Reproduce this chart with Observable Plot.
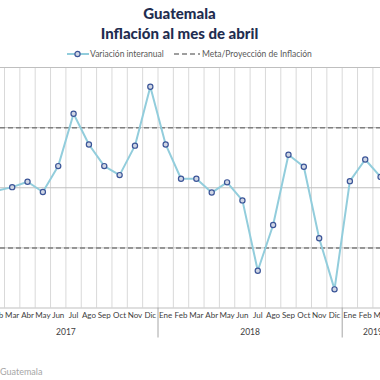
<!DOCTYPE html>
<html><head><meta charset="utf-8">
<script src="https://cdn.jsdelivr.net/npm/d3@7"></script>
<script src="https://cdn.jsdelivr.net/npm/@observablehq/plot@0.6"></script>
<style>
body{margin:0;background:#fff;}
#wrap{position:relative;width:380px;height:380px;overflow:hidden;font-family:Lato,"Noto Sans",sans-serif;background:#fff;}
.title{position:absolute;left:0;width:359px;text-align:center;font-weight:900;color:#1f2d50;font-size:15px;line-height:18px;white-space:nowrap;}
#legend{position:absolute;left:0;top:48px;width:380px;height:12px;font-size:8.5px;color:#595959;}
#legend .item{position:absolute;top:0;height:12px;line-height:12px;white-space:nowrap;}
#legend svg{position:absolute;top:0;}
#chart{position:absolute;left:0;top:60px;}
#source{position:absolute;left:0;top:366px;font-size:9px;color:#a6a6a6;line-height:12px;}
</style></head>
<body>
<div id="wrap">
  <div class="title" style="top:4px">Guatemala</div>
  <div class="title" style="top:24px">Inflación al mes de abril</div>
  <div id="legend">
    <svg width="24" height="12" style="left:66px"><line x1="1" y1="6" x2="23" y2="6" stroke="#92cddc" stroke-width="2"/><circle cx="11.5" cy="6" r="2.6" fill="#d0d6e4" stroke="#3b5598" stroke-width="1.2"/></svg>
    <div class="item" style="left:90px">Variación interanual</div>
    <svg width="28" height="12" style="left:173px"><line x1="1" y1="6" x2="27" y2="6" stroke="#7f7f7f" stroke-width="1.5" stroke-dasharray="5,3"/></svg>
    <div class="item" style="left:202px">Meta/Proyección de Inflación</div>
  </div>
  <div id="chart"></div>
  <div id="source">Guatemala</div>
</div>
<script>
const monthNames = ["Ene","Feb","Mar","Abr","May","Jun","Jul","Ago","Sep","Oct","Nov","Dic"];
const years = [2017, 2018, 2019];
const monthsPerYear = [12, 12, 4];
// Variación interanual (%), from Feb 2017 to Mar 2019 (visible part)
const firstValueIndex = 1; // Feb 2017
const inflation = [3.95, 4.01, 4.10, 3.93, 4.36, 5.23, 4.72, 4.36, 4.21, 4.70, 5.68,
                   4.72, 4.15, 4.15, 3.92, 4.09, 3.79, 2.62, 3.38, 4.55, 4.35, 3.16, 2.31,
                   4.11, 4.47, 4.18];
const metaBands = [3, 5];
const yGrid = [3, 4, 5, 6];

const periods = [];
years.forEach((y, k) => { for (let m = 0; m < monthsPerYear[k]; m++) periods.push({i: periods.length, label: monthNames[m], year: y}); });
const series = inflation.map((v, k) => ({i: k + firstValueIndex, v}));
const boundaries = periods.map(d => d.i - 0.5).concat([periods.length - 0.5]);
let acc = 0;
const yearInfo = years.map((y, k) => { const s = acc; acc += monthsPerYear[k]; return {year: String(y), start: s, end: acc - 1, center: (s + acc - 1) / 2}; });
const yearSeps = yearInfo.slice(1).map(d => d.start - 0.5);

const chart = Plot.plot({
  width: 380, height: 295,
  marginTop: 7, marginBottom: 47.5, marginLeft: 0, marginRight: 0,
  x: {type: "linear", domain: [-0.5, periods.length - 0.5], range: [-26.7, 403.1], axis: null},
  y: {domain: [2, 6], axis: null},
  style: {fontFamily: "Lato, 'Noto Sans', sans-serif", fontSize: "8px", overflow: "hidden", background: "#fff"},
  marks: [
    Plot.ruleX(boundaries, {y1: 2, y2: 6, stroke: "#d9d9d9", strokeWidth: 1}),
    Plot.ruleY(yGrid, {stroke: "#bfbfbf", strokeWidth: 1}),
    Plot.ruleY([2], {stroke: "#bfbfbf", strokeWidth: 1}),
    Plot.ruleX(yearSeps, {y1: 2, y2: 2, insetBottom: -30, stroke: "#a6a6a6", strokeWidth: 1}),
    Plot.ruleY(metaBands, {stroke: "#7f7f7f", strokeWidth: 1.5, strokeDasharray: "5,3"}),
    Plot.line(series, {x: "i", y: "v", stroke: "#92cddc", strokeWidth: 2}),
    Plot.dot(series, {x: "i", y: "v", r: 2.6, stroke: "#3b5598", fill: "#d0d6e4", strokeWidth: 1.2}),
    Plot.text(periods, {x: "i", text: "label", frameAnchor: "bottom", dy: 10, fill: "#404040"}),
    Plot.text(yearInfo, {x: "center", text: "year", frameAnchor: "bottom", dy: 27, fill: "#404040", fontSize: 8.5})
  ]
});
document.getElementById("chart").appendChild(chart);
</script>
</body></html>
